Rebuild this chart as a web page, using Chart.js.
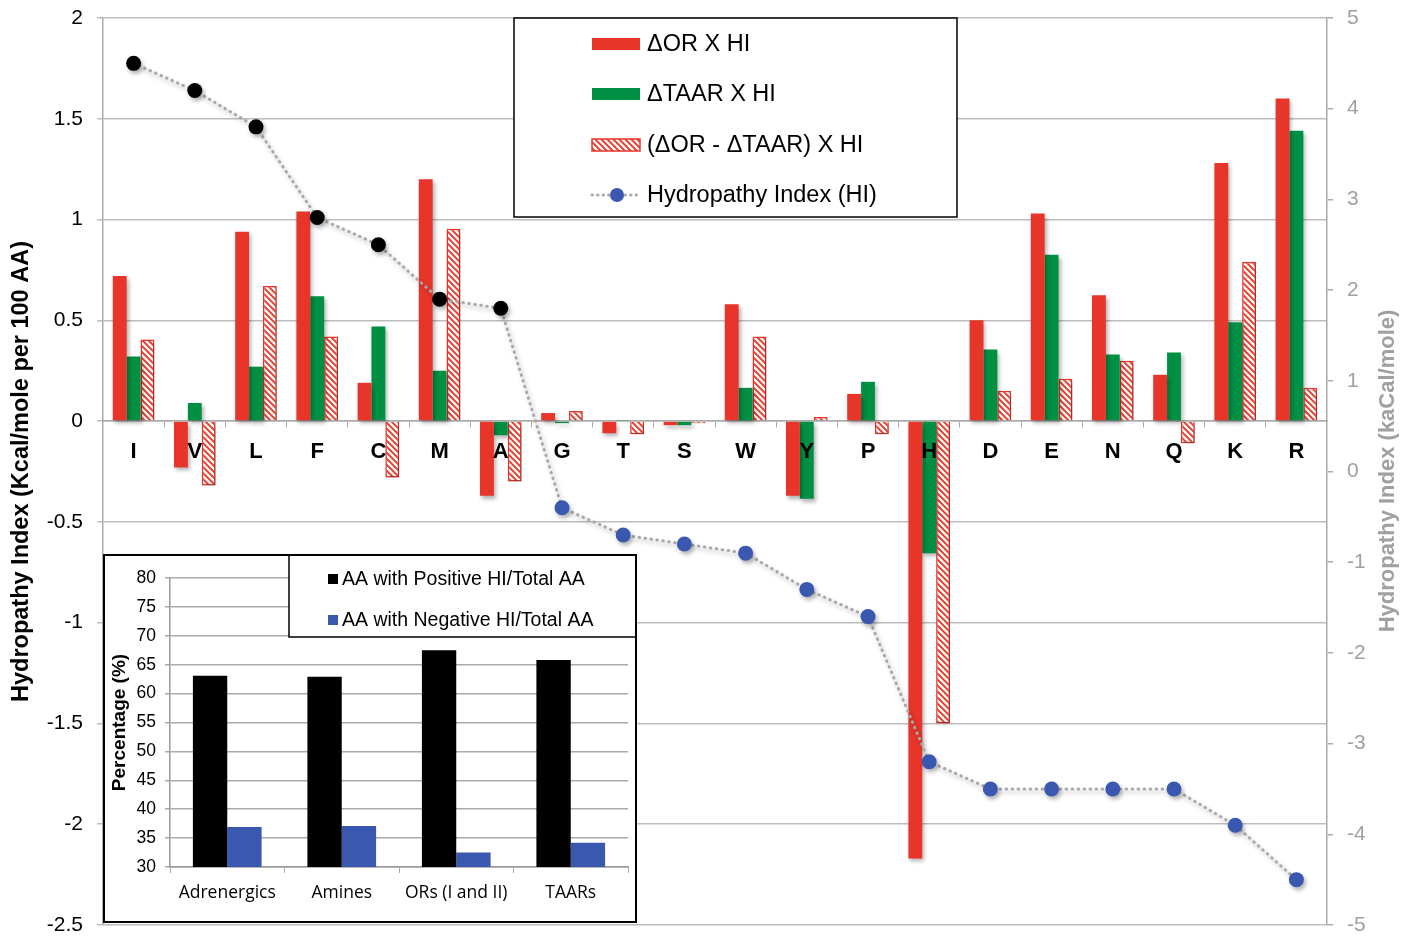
<!DOCTYPE html>
<html lang="en">
<head>
<meta charset="UTF-8">
<title>Hydropathy Index</title>
<script src="https://cdn.jsdelivr.net/npm/chart.js"></script>
<style>
    body { margin: 0; background: #fff; }
    #wrap { position: relative; width: 1411px; height: 937px; }
    #inset { position: absolute; left: 103px; top: 554px; width: 534px; height: 369px;
             border: 2px solid #000; background: #fff; box-sizing: border-box; }
    canvas { display: block; }
</style>
</head>
<body>
<div id="wrap">
    <canvas id="mainChart" width="1411" height="937"></canvas>
    <div id="inset"><canvas id="insetChart" width="530" height="365"></canvas></div>
</div>

<script>
// Amino acids ordered by hydropathy
const aminoAcids = ['I', 'V', 'L', 'F', 'C', 'M', 'A', 'G', 'T', 'S', 'W', 'Y', 'P', 'H', 'D', 'E', 'N', 'Q', 'K', 'R'];

// Kcal/mole per 100 AA
const orHI   = [0.72, -0.23, 0.94, 1.04, 0.19, 1.20, -0.37, 0.04, -0.06, -0.02, 0.58, -0.37, 0.135, -2.17, 0.50, 1.03, 0.625, 0.23, 1.28, 1.60];
const taarHI = [0.32, 0.09, 0.27, 0.62, 0.47, 0.25, -0.07, -0.01, 0.005, -0.02, 0.165, -0.385, 0.195, -0.655, 0.355, 0.825, 0.33, 0.34, 0.49, 1.44];
const diffHI = [0.405, -0.32, 0.67, 0.42, -0.28, 0.955, -0.30, 0.05, -0.065, -0.01, 0.42, 0.02, -0.065, -1.50, 0.15, 0.21, 0.30, -0.11, 0.79, 0.165];

// Hydropathy index (kaCal/mole), right axis
const hydropathy = [4.5, 4.2, 3.8, 2.8, 2.5, 1.9, 1.8, -0.4, -0.7, -0.8, -0.9, -1.3, -1.6, -3.2, -3.5, -3.5, -3.5, -3.5, -3.9, -4.5];

// inset: share of residues (%)
const insetGroups = ['Adrenergics', 'Amines', 'ORs (I and II)', 'TAARs'];
const positiveShare = [63.1, 62.9, 67.5, 65.8];
const negativeShare = [36.9, 37.1, 32.5, 34.2];

const RED = '#e8352a';
const GREEN = '#009043';
const BLUE = '#3b58b0';
const FONT = '"Liberation Sans", Arial, sans-serif';

// diagonal red hatch
function makeHatch() {
    const c = document.createElement('canvas');
    c.width = 6; c.height = 6;
    const g = c.getContext('2d');
    g.fillStyle = '#fdf8f4';
    g.fillRect(0, 0, 6, 6);
    g.strokeStyle = RED;
    g.lineWidth = 1.8;
    g.beginPath();
    g.moveTo(-1, -1); g.lineTo(7, 7);
    g.moveTo(-4, 2); g.lineTo(4, 10);
    g.moveTo(2, -4); g.lineTo(10, 4);
    g.stroke();
    return g.createPattern(c, 'repeat');
}
const hatch = makeHatch();

// shadows under bars and dots
const shadowPlugin = {
    id: 'shadows',
    beforeDatasetDraw(chart) {
        const ctx = chart.ctx;
        ctx.save();
        ctx.shadowColor = 'rgba(0,0,0,0.3)';
        ctx.shadowBlur = 4;
        ctx.shadowOffsetX = 2;
        ctx.shadowOffsetY = 3;
    },
    afterDatasetDraw(chart) {
        chart.ctx.restore();
    }
};

// boxed legend + right axis title
const mainDecor = {
    id: 'mainDecor',
    afterDraw(chart) {
        const ctx = chart.ctx;
        ctx.save();
        ctx.fillStyle = '#fff';
        ctx.fillRect(514, 18, 443, 199);
        ctx.strokeStyle = '#000';
        ctx.lineWidth = 1.5;
        ctx.strokeRect(514, 18, 443, 199);

        const ds = chart.data.datasets;
        const rows = [44, 94, 145, 195];
        ctx.font = '23.5px ' + FONT;
        ctx.textBaseline = 'middle';
        // bars
        ctx.fillStyle = RED;
        ctx.fillRect(592, rows[0] - 6, 48, 12);
        ctx.fillStyle = GREEN;
        ctx.fillRect(592, rows[1] - 6, 48, 12);
        ctx.fillStyle = hatch;
        ctx.fillRect(592, rows[2] - 6, 48, 12);
        ctx.strokeStyle = RED;
        ctx.lineWidth = 1.5;
        ctx.strokeRect(592, rows[2] - 6, 48, 12);
        // line
        ctx.strokeStyle = '#aaa';
        ctx.lineWidth = 3;
        ctx.lineCap = 'round';
        ctx.setLineDash([0.5, 5]);
        ctx.beginPath();
        ctx.moveTo(592, rows[3]); ctx.lineTo(640, rows[3]);
        ctx.stroke();
        ctx.setLineDash([]);
        ctx.fillStyle = BLUE;
        ctx.beginPath();
        ctx.arc(617, rows[3], 7, 0, Math.PI * 2);
        ctx.fill();

        ctx.fillStyle = '#000';
        const order = [1, 2, 3, 0];
        order.forEach((di, i) => ctx.fillText(ds[di].label, 647, rows[i] + 1));

        // right axis title, reading upwards
        ctx.translate(1388, 471);
        ctx.rotate(-Math.PI / 2);
        ctx.textAlign = 'center';
        ctx.fillStyle = '#a0a0a0';
        ctx.font = 'bold 22px ' + FONT;
        ctx.fillText('Hydropathy Index (kaCal/mole)', 0, 0);
        ctx.restore();
    }
};

new Chart(document.getElementById('mainChart'), {
    type: 'bar',
    data: {
        labels: aminoAcids,
        datasets: [
            {
                type: 'line',
                label: 'Hydropathy Index (HI)',
                data: hydropathy,
                yAxisID: 'y2',
                order: 0,
                borderColor: '#a8a8a8',
                borderWidth: 3,
                borderDash: [0.5, 5.5],
                borderCapStyle: 'round',
                pointRadius: 7.5,
                pointBackgroundColor: hydropathy.map(v => v > 0 ? '#000' : BLUE),
                pointBorderColor: hydropathy.map(v => v > 0 ? '#000' : BLUE),
                pointBorderWidth: 0,
                fill: false
            },
            {
                label: '\u0394OR X HI',
                data: orHI,
                backgroundColor: RED,
                order: 1,
                categoryPercentage: 0.68,
                barPercentage: 1
            },
            {
                label: '\u0394TAAR X HI',
                data: taarHI,
                backgroundColor: GREEN,
                order: 1,
                categoryPercentage: 0.68,
                barPercentage: 1
            },
            {
                label: '(\u0394OR - \u0394TAAR) X HI',
                data: diffHI,
                backgroundColor: hatch,
                borderColor: RED,
                borderWidth: 1.5,
                order: 1,
                categoryPercentage: 0.68,
                barPercentage: 1
            }
        ]
    },
    options: {
        responsive: false,
        animation: false,
        layout: { padding: { top: 18, bottom: 12, left: 0, right: 0 } },
        plugins: { legend: { display: false }, tooltip: { enabled: false } },
        scales: {
            x: {
                position: { y: 0 },
                afterFit: s => { s.paddingLeft = 0; s.paddingRight = 0; s.paddingTop = 0; s.paddingBottom = 0; },
                grid: { drawOnChartArea: false, drawTicks: true, tickLength: 6, color: '#aaa', offset: true },
                border: { color: '#aaa', width: 1.5 },
                ticks: { z: 1, color: '#000', font: { family: FONT, size: 22, weight: 'bold' }, padding: 12, maxRotation: 0 }
            },
            y: {
                position: 'left',
                min: -2.5,
                max: 2,
                afterFit: s => { s.width = 103; s.paddingTop = 10; s.paddingBottom = 10; },
                ticks: { stepSize: 0.5, color: '#000', font: { family: FONT, size: 21 }, padding: 14, callback: v => String(v) },
                grid: { color: '#bdbdbd', lineWidth: 1.5, tickLength: 6 },
                border: { color: '#aaa', width: 1.5 },
                title: {
                    display: true,
                    text: 'Hydropathy Index (Kcal/mole per 100 AA)',
                    color: '#000',
                    font: { family: FONT, size: 23.5, weight: 'bold' },
                    padding: { top: 7, bottom: 0 }
                }
            },
            y2: {
                position: 'right',
                min: -5,
                max: 5,
                afterFit: s => { s.width = 84; s.paddingTop = 10; s.paddingBottom = 10; },
                ticks: { stepSize: 1, color: '#a0a0a0', font: { family: FONT, size: 21 }, padding: 14, callback: v => String(v) },
                grid: { drawOnChartArea: false, color: '#aaa', tickLength: 6, lineWidth: 1.5 },
                border: { color: '#aaa', width: 1.5 }
            }
        }
    },
    plugins: [shadowPlugin, mainDecor]
});

// inset legend box
const insetLegend = {
    id: 'insetLegend',
    afterDraw(chart) {
        const ctx = chart.ctx;
        const ds = chart.data.datasets;
        ctx.save();
        ctx.fillStyle = '#fff';
        ctx.fillRect(184, 0, 346, 81);
        ctx.strokeStyle = '#000';
        ctx.lineWidth = 1.5;
        ctx.beginPath();
        ctx.moveTo(184, 0); ctx.lineTo(184, 81); ctx.lineTo(530, 81);
        ctx.stroke();
        ctx.font = '19.5px ' + FONT;
        ctx.textBaseline = 'middle';
        [23, 64].forEach((y, i) => {
            ctx.fillStyle = ds[i].backgroundColor;
            ctx.fillRect(223, y - 5, 10, 10);
            ctx.fillStyle = '#000';
            ctx.fillText(ds[i].label, 237, y + 1);
        });
        ctx.restore();
    }
};

new Chart(document.getElementById('insetChart'), {
    type: 'bar',
    data: {
        labels: insetGroups,
        datasets: [
            { label: 'AA with Positive HI/Total AA', data: positiveShare, backgroundColor: '#000',
              categoryPercentage: 0.6, barPercentage: 1 },
            { label: 'AA with Negative HI/Total AA', data: negativeShare, backgroundColor: BLUE,
              categoryPercentage: 0.6, barPercentage: 1 }
        ]
    },
    options: {
        responsive: false,
        animation: false,
        layout: { padding: { top: 22, right: 7, left: 0, bottom: 0 } },
        plugins: { legend: { display: false }, tooltip: { enabled: false } },
        scales: {
            x: {
                afterFit: s => { s.height = 54; },
                grid: { drawOnChartArea: false, tickLength: 6, color: '#aaa', offset: true },
                border: { color: '#999', width: 1.5 },
                ticks: { color: '#000', font: { family: '"Open Sans", sans-serif', size: 17.5 }, padding: 10, maxRotation: 0 }
            },
            y: {
                min: 30,
                max: 80,
                afterFit: s => { s.width = 65; },
                ticks: { stepSize: 5, color: '#000', font: { family: FONT, size: 17.5 }, padding: 9 },
                grid: { color: '#aaa', lineWidth: 1.5, tickLength: 5 },
                border: { color: '#999', width: 1.5 },
                title: {
                    display: true,
                    text: 'Percentage (%)',
                    color: '#000',
                    font: { family: FONT, size: 19, weight: 'bold' },
                    padding: { top: 3, bottom: 0 }
                }
            }
        }
    },
    plugins: [insetLegend]
});
</script>
</body>
</html>
